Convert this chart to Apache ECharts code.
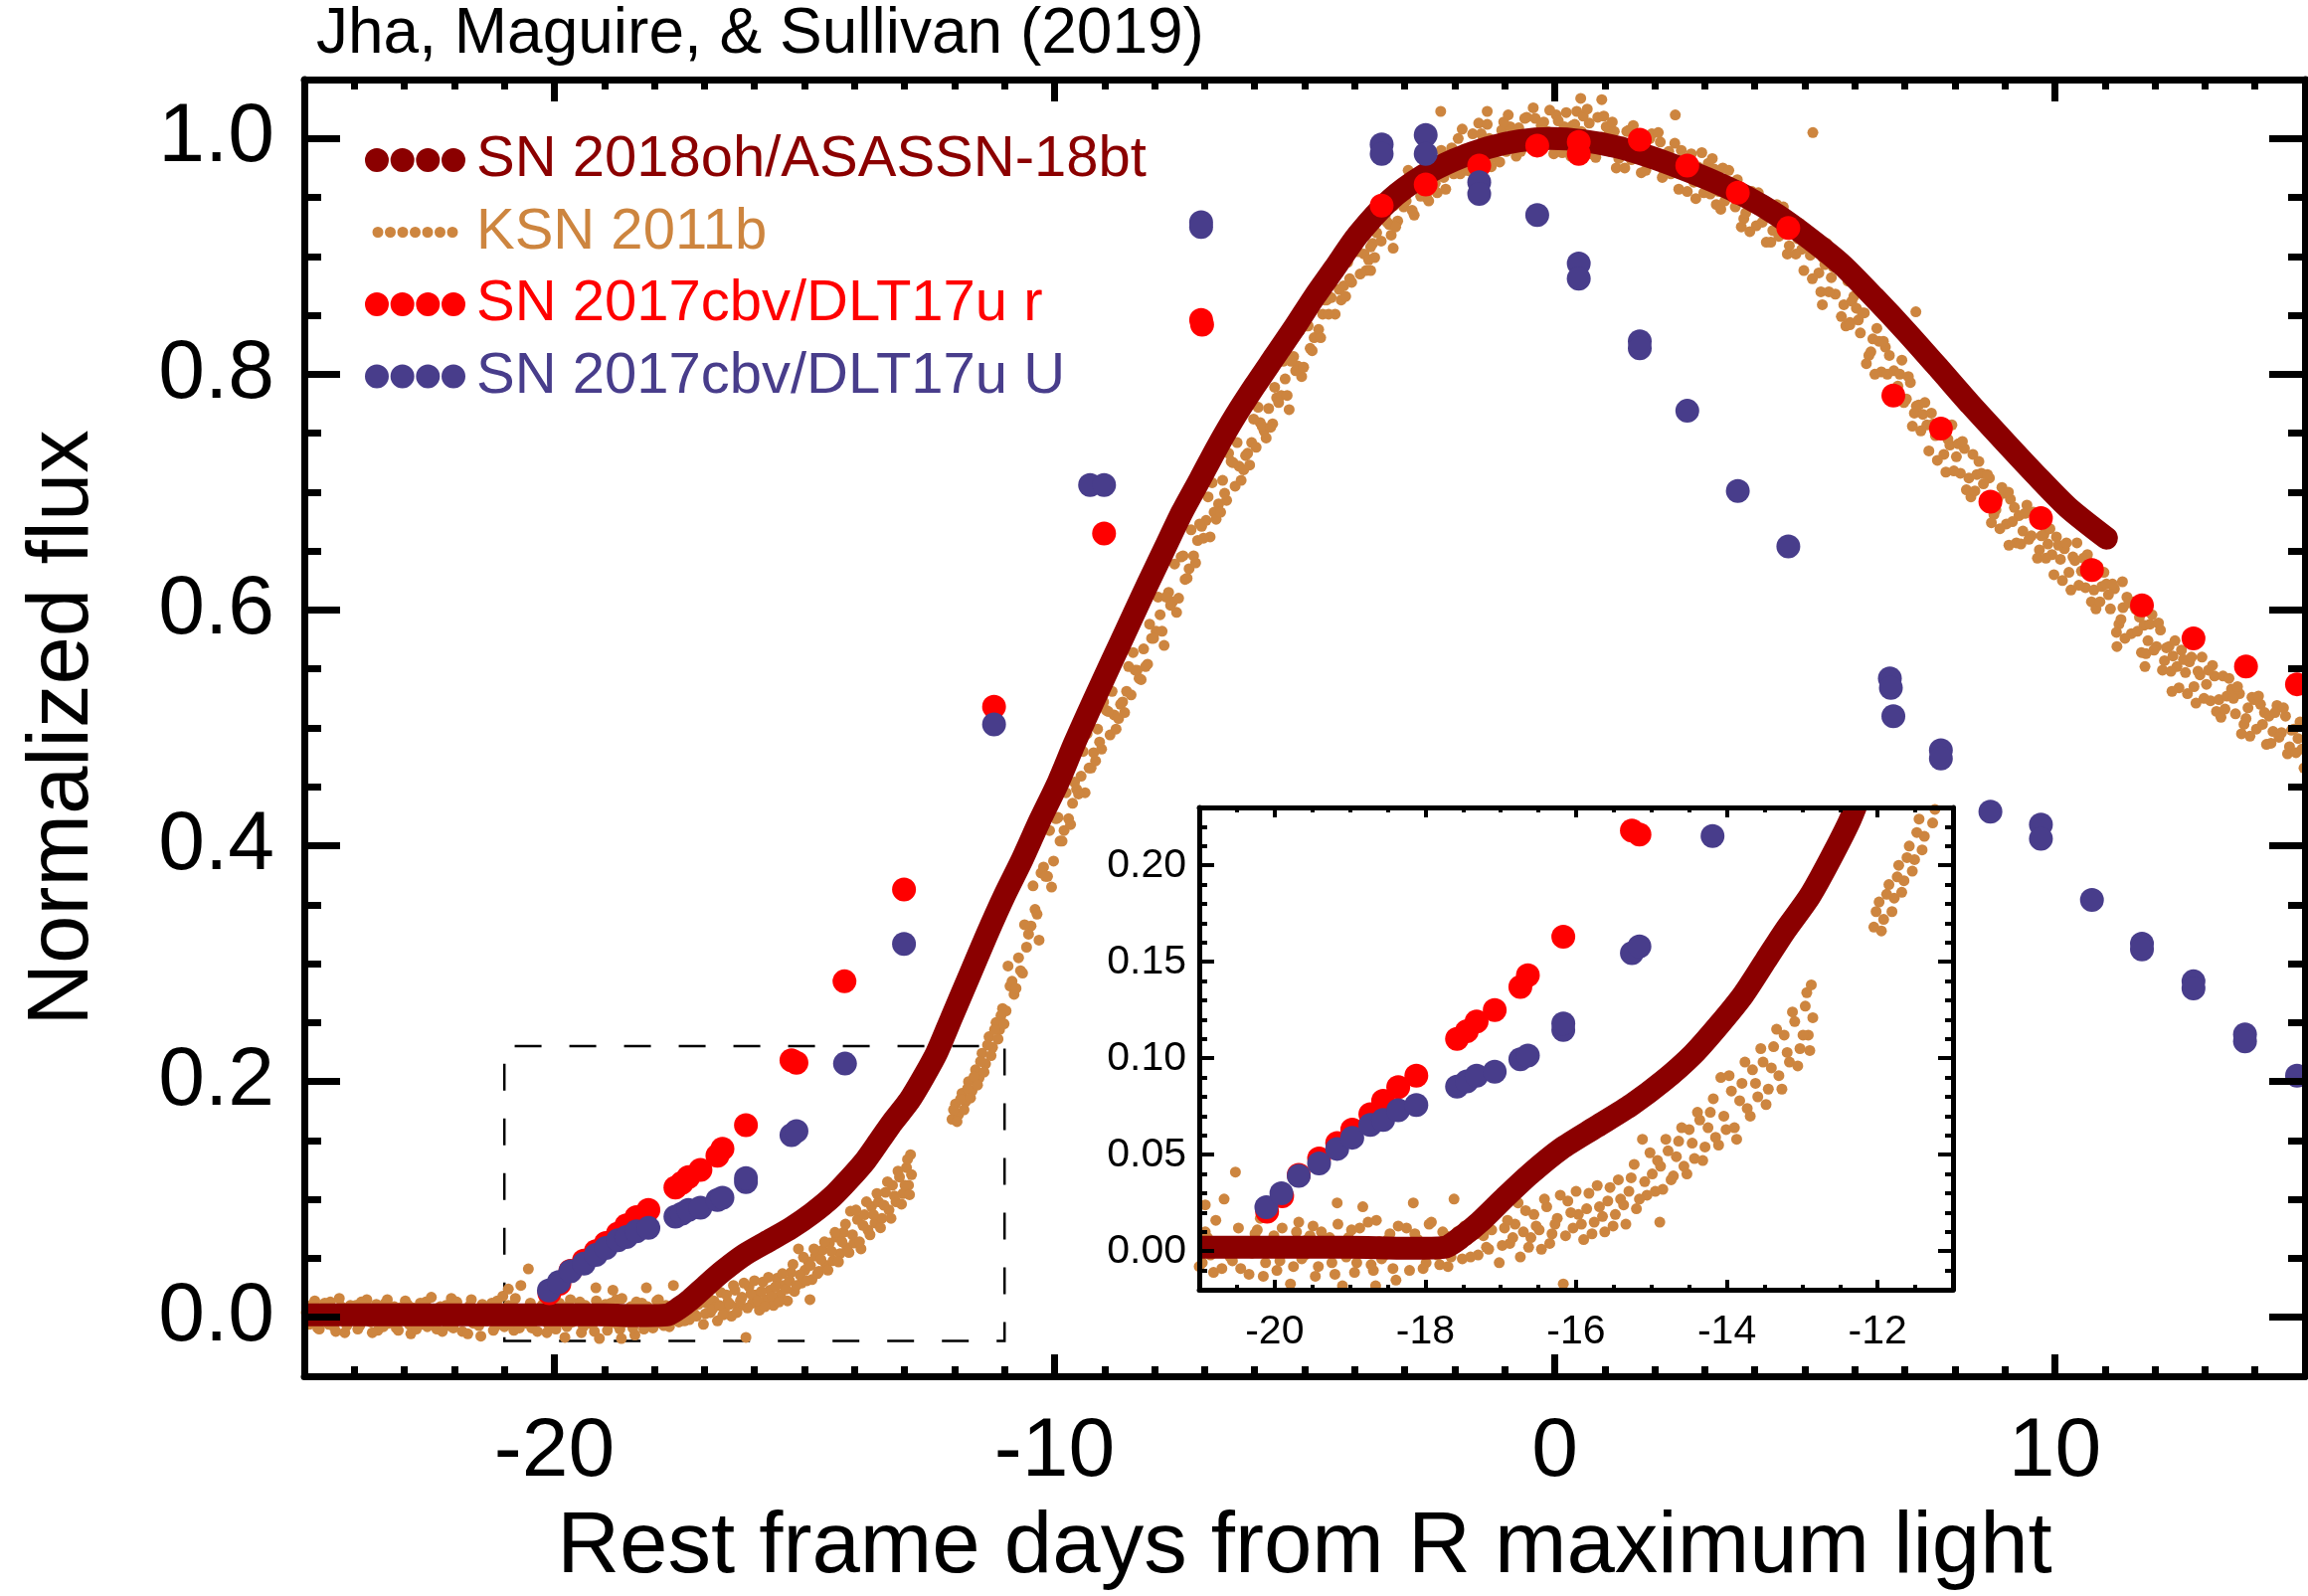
<!DOCTYPE html>
<html>
<head>
<meta charset="utf-8">
<script src="https://cdn.jsdelivr.net/npm/echarts@6/dist/echarts.min.js"></script>
<style>
  html, body { margin: 0; padding: 0; background: #fff; }
  #chart { width: 2321px; height: 1605px; }
</style>
</head>
<body>
<div id="chart"></div>
<script>
// ---- Light-curve data: [rest-frame days from R max, normalized flux] ----

// SN 2018oh / ASASSN-18bt (K2 light curve)
const sn2018oh = [
  [-25,0.002],[-22,0.002],[-19,0.002],[-17.75,0.002],[-17.5,0.008],[-17.28,0.015],[-16.94,0.028],
  [-16.61,0.040],[-16.2,0.053],[-15.73,0.0645],[-15.26,0.076],[-14.85,0.088],[-14.45,0.102],
  [-14.11,0.117],[-13.78,0.133],[-13.48,0.151],[-13.23,0.166],[-12.9,0.184],[-12.63,0.203],
  [-12.36,0.224],[-12.06,0.254],[-11.7,0.29],[-11.35,0.325],[-11.0,0.358],[-10.64,0.389],
  [-10.3,0.421],[-9.93,0.4535],[-9.6,0.487],[-9.22,0.523],[-8.85,0.557],[-8.51,0.588],
  [-8.15,0.621],[-7.80,0.652],[-7.45,0.683],[-7.09,0.711],[-6.75,0.738],[-6.38,0.765],
  [-6.0,0.79],[-5.6,0.815],[-5.2,0.84],[-4.8,0.866],[-4.4,0.89],[-3.94,0.918],[-3.29,0.948],
  [-2.65,0.968],[-2.0,0.982],[-1.35,0.992],[-0.71,0.998],[-0.06,1.0],[0.58,0.998],[1.23,0.993],
  [1.87,0.985],[2.52,0.975],[3.16,0.964],[3.81,0.951],[4.45,0.935],[5.1,0.915],[5.74,0.893],
  [6.39,0.865],[7.03,0.836],[7.68,0.805],[8.32,0.774],[8.97,0.744],[9.61,0.715],[10.26,0.687],
  [11.03,0.661]
];

// KSN 2011b (Kepler extragalactic survey): pre-explosion baseline
const ksnBaseline = [
  [-24.96,0.004],[-24.90,-0.006],[-24.83,0.011],[-24.76,0.001],[-24.70,-0.010],[-24.62,0.007],
  [-24.55,-0.003],[-24.48,0.013],[-24.41,-0.008],[-24.33,0.002],[-24.26,0.009],[-24.19,-0.013],
  [-24.11,0.005],[-24.04,-0.002],[-23.97,0.010],[-23.89,-0.007],[-23.82,0.003],[-23.75,0.015],
  [-23.67,-0.004],[-23.60,0.006],[-23.53,-0.011],[-23.45,0.000],[-23.38,0.012],[-23.31,-0.005],
  [-23.23,0.004],[-23.16,-0.009],[-23.09,0.008],[-23.01,-0.001],[-22.94,0.011],[-22.87,-0.014],
  [-22.79,0.003],[-22.72,0.007],[-22.65,-0.006],[-22.57,0.013],[-22.50,-0.002],[-22.43,0.005],
  [-22.35,-0.010],[-22.28,0.009],[-22.21,0.001],[-22.13,-0.007],[-22.06,0.016],[-21.99,-0.004],
  [-21.91,0.006],[-21.84,-0.012],[-21.77,0.002],[-21.69,0.010],[-21.62,-0.005],[-21.55,0.004],
  [-21.47,-0.016],[-21.40,0.008],[-21.33,-0.002],[-21.25,0.012],[-21.18,-0.008],[-21.11,0.003],
  [-21.03,0.018],[-20.96,-0.006],[-20.92,0.024],[-20.89,0.007],[-20.81,-0.011],[-20.74,0.001],
  [-20.67,0.027],[-20.59,-0.003],[-20.52,0.041],[-20.45,-0.009],[-20.37,0.005],[-20.30,-0.001],
  [-20.23,0.011],[-20.15,-0.013],[-20.08,0.004],[-20.01,0.008],[-19.93,-0.005],[-19.86,0.002],
  [-19.79,-0.017],[-19.71,0.010],[-19.64,-0.004],[-19.57,0.006],[-19.49,0.013],[-19.42,-0.008],
  [-19.35,0.001],[-19.27,0.007],[-19.20,-0.012],[-19.17,0.025],[-19.13,0.004],[-19.10,-0.018],
  [-19.05,-0.003],[-18.98,0.011],[-18.91,-0.006],[-18.83,0.023],[-18.76,0.015],[-18.69,-0.010],
  [-18.66,-0.018],[-18.61,0.005],[-18.54,-0.002],[-18.47,0.009],[-18.39,-0.015],[-18.32,0.002],
  [-18.25,0.012],[-18.16,0.025],[-18.10,0.006],[-18.03,-0.009],[-17.95,0.014],[-17.88,0.001],
  [-17.81,-0.007],[-17.73,0.008],[-17.66,-0.003],[-17.62,0.027],
  [-24.93,0.009],[-24.86,-0.004],[-24.79,0.014],[-24.73,-0.009],[-24.66,0.003],[-24.59,0.012],
  [-24.51,-0.006],[-24.44,0.007],[-24.37,-0.012],[-24.30,0.016],[-24.22,0.001],[-24.15,-0.007],
  [-24.08,0.010],[-24.00,0.004],[-23.93,-0.010],[-23.86,0.013],[-23.78,-0.002],[-23.71,0.008],
  [-23.64,-0.013],[-23.56,0.011],[-23.49,0.005],[-23.42,-0.008],[-23.34,0.015],[-23.27,-0.003],
  [-23.20,0.009],[-23.12,-0.011],[-23.05,0.002],[-22.98,0.014],[-22.90,-0.006],[-22.83,0.008],
  [-22.76,-0.010],[-22.68,0.012],[-22.61,0.000],[-22.54,-0.008],[-22.46,0.017],[-22.39,-0.004],
  [-22.32,0.006],[-22.24,-0.012],[-22.17,0.010],[-22.10,0.003],[-22.02,-0.009],[-21.95,0.013],
  [-21.88,-0.001],[-21.80,0.007],[-21.73,-0.014],[-21.66,0.015],[-21.58,0.002],[-21.51,-0.007],
  [-21.44,0.011],[-21.36,-0.003],[-21.29,0.006],[-21.22,-0.011],[-21.14,0.014],[-21.07,0.000],
  [-21.00,-0.008],[-20.92,0.010],[-20.85,-0.002],[-20.78,0.016],[-20.70,-0.009],[-20.63,0.005],
  [-20.56,-0.005],[-20.48,0.012],[-20.41,0.002],[-20.34,-0.012],[-20.26,0.009],[-20.19,0.017],
  [-20.12,-0.006],[-20.04,0.003],[-19.97,-0.010],[-19.90,0.012],[-19.82,0.005],[-19.75,-0.008],
  [-19.68,0.015],[-19.60,-0.002],[-19.53,0.008],[-19.46,-0.013],[-19.38,0.010],[-19.31,0.003],
  [-19.24,-0.006],[-19.16,0.014],[-19.09,-0.001],[-19.02,0.007],[-18.94,-0.011],[-18.87,0.012],
  [-18.80,0.002],[-18.72,-0.007],[-18.65,0.016],[-18.58,-0.004],[-18.50,0.006],[-18.43,-0.009],
  [-18.36,0.013],[-18.28,0.000],[-18.21,-0.010],[-18.14,0.009],[-18.06,0.003],[-17.99,-0.006],
  [-17.92,0.015],[-17.84,-0.002],[-17.77,0.010],[-17.70,-0.008],[-17.64,0.004]
];

// KSN 2011b: early rise
const ksnRise = [
  [-17.58,0.010],[-17.51,-0.004],[-17.44,0.006],[-17.37,0.016],[-17.30,-0.002],[-17.23,0.008],
  [-17.16,0.001],[-17.09,0.019],[-17.02,-0.006],[-16.95,0.012],[-16.88,0.004],[-16.81,0.014],
  [-16.74,-0.003],[-16.67,0.021],[-16.60,0.007],[-16.53,0.013],[-16.46,0.001],[-16.39,0.023],
  [-16.32,0.009],[-16.25,0.017],[-16.17,-0.017],[-16.11,0.026],[-16.04,0.012],[-15.97,0.019],
  [-15.90,0.006],[-15.83,0.030],[-15.76,0.015],[-15.69,0.023],[-15.62,0.010],[-15.55,0.033],
  [-15.48,0.019],[-15.41,0.027],[-15.34,0.014],[-15.27,0.038],[-15.20,0.022],[-15.12,0.058],
  [-15.06,0.029],[-14.99,0.040],[-14.92,0.047],[-14.89,0.015],[-14.85,0.032],[-14.78,0.052],
  [-14.71,0.039],[-14.64,0.057],[-14.57,0.044],[-14.50,0.063],[-14.43,0.048],[-14.36,0.068],
  [-14.29,0.054],[-14.22,0.072],[-14.15,0.059],[-14.08,0.090],[-14.01,0.063],[-13.94,0.083],
  [-13.87,0.058],[-13.80,0.087],[-13.73,0.074],[-13.66,0.094],[-13.59,0.080],[-13.52,0.098],
  [-13.45,0.084],[-13.38,0.106],[-13.31,0.091],[-13.24,0.112],[-13.17,0.098],[-13.10,0.119],
  [-13.03,0.105],[-12.96,0.127],[-12.92,0.112],[-12.88,0.138],[-12.86,0.121],
  [-17.55,0.003],[-17.48,0.013],[-17.40,-0.003],[-17.33,0.009],[-17.26,0.018],[-17.19,0.002],
  [-17.12,0.011],[-17.05,0.024],[-16.98,0.003],[-16.91,0.016],[-16.84,0.007],[-16.77,0.025],
  [-16.70,0.010],[-16.63,0.002],[-16.56,0.019],[-16.49,0.011],[-16.42,0.027],[-16.35,0.004],
  [-16.28,0.014],[-16.21,0.029],[-16.14,0.008],[-16.07,0.020],[-16.00,0.031],[-15.93,0.014],
  [-15.86,0.022],[-15.79,0.009],[-15.72,0.034],[-15.65,0.018],[-15.58,0.026],[-15.51,0.013],
  [-15.44,0.037],[-15.37,0.024],[-15.30,0.031],[-15.23,0.045],[-15.16,0.027],[-15.09,0.036],
  [-15.02,0.051],[-14.95,0.031],[-14.88,0.044],[-14.81,0.058],[-14.74,0.037],[-14.67,0.049],
  [-14.60,0.064],[-14.53,0.040],[-14.46,0.056],[-14.39,0.072],[-14.32,0.047],[-14.25,0.064],
  [-14.18,0.079],[-14.11,0.055],[-14.04,0.070],[-13.97,0.091],[-13.90,0.064],[-13.83,0.078],
  [-13.76,0.098],[-13.69,0.070],[-13.62,0.087],[-13.55,0.105],[-13.48,0.076],[-13.41,0.095],
  [-13.34,0.115],[-13.27,0.084],[-13.20,0.103],[-13.13,0.124],[-13.06,0.096],[-12.99,0.112],
  [-12.94,0.134],[-12.90,0.104]
];

// KSN 2011b: late rise, peak and decline (after the data gap)
const ksnLate = [
  [-12.05,0.168],[-11.98,0.181],[-11.92,0.172],[-11.85,0.190],[-11.78,0.183],[-11.72,0.200],
  [-11.65,0.192],[-11.58,0.210],[-11.51,0.203],[-11.45,0.224],[-11.38,0.215],[-11.31,0.238],
  [-11.24,0.229],[-11.17,0.250],[-11.10,0.244],[-11.04,0.262],
  [-10.97,0.260],[-10.89,0.281],[-10.81,0.274],[-10.72,0.305],[-10.64,0.292],[-10.56,0.314],
  [-10.47,0.332],[-10.39,0.346],[-10.31,0.320],[-10.22,0.382],[-10.14,0.374],[-10.06,0.365],
  [-9.97,0.423],[-9.89,0.404],[-9.81,0.413],[-9.72,0.423],[-9.64,0.436],[-9.56,0.448],
  [-9.47,0.459],[-9.39,0.445],[-9.31,0.466],[-9.22,0.479],[-9.14,0.499],[-9.06,0.482],
  [-8.97,0.515],[-8.89,0.494],[-8.81,0.511],[-8.72,0.508],[-8.64,0.522],[-8.56,0.531],
  [-8.47,0.528],[-8.39,0.549],[-8.31,0.542],[-8.22,0.567],[-8.14,0.554],[-8.06,0.576],
  [-7.97,0.582],[-7.89,0.596],[-7.81,0.570],[-7.72,0.615],[-7.64,0.607],[-7.56,0.598],
  [-7.47,0.645],[-7.39,0.626],[-7.31,0.635],[-7.22,0.646],[-7.14,0.659],[-7.06,0.671],
  [-6.97,0.676],[-6.89,0.662],[-6.81,0.683],[-6.72,0.690],[-6.64,0.710],[-6.56,0.693],
  [-6.47,0.726],[-6.39,0.705],[-6.31,0.722],[-6.22,0.719],[-6.14,0.733],[-6.06,0.742],
  [-5.97,0.738],[-5.89,0.759],[-5.81,0.752],[-5.72,0.771],[-5.64,0.758],[-5.56,0.780],
  [-5.47,0.782],[-5.39,0.796],[-5.31,0.770],[-5.22,0.815],[-5.14,0.807],[-5.06,0.798],
  [-4.97,0.841],[-4.89,0.822],[-4.81,0.831],[-4.72,0.838],[-4.64,0.851],[-4.56,0.863],
  [-4.47,0.865],[-4.39,0.851],[-4.31,0.872],[-4.22,0.875],[-4.14,0.895],[-4.06,0.878],
  [-3.97,0.906],[-3.89,0.885],[-3.81,0.902],[-3.72,0.897],[-3.64,0.911],[-3.56,0.920],
  [-3.47,0.913],[-3.39,0.934],[-3.31,0.927],[-3.22,0.943],[-3.14,0.930],[-3.06,0.952],
  [-2.97,0.947],[-2.89,0.961],[-2.81,0.935],[-2.72,0.967],[-2.64,0.959],[-2.56,0.950],
  [-2.47,0.981],[-2.39,0.962],[-2.31,0.971],[-2.22,0.967],[-2.14,0.980],[-2.06,0.992],
  [-1.97,0.984],[-1.89,0.970],[-1.81,0.991],[-1.72,0.984],[-1.64,1.004],[-1.56,0.987],
  [-1.47,1.004],[-1.39,0.983],[-1.31,1.000],[-1.22,0.984],[-1.14,0.998],[-1.06,1.007],
  [-0.97,0.989],[-0.89,1.010],[-0.81,1.003],[-0.72,1.009],[-0.64,0.996],[-0.56,1.018],
  [-0.47,1.003],[-0.39,1.017],[-0.31,0.991],[-0.22,1.014],[-0.14,1.006],[-0.06,0.997],
  [0.03,1.020],[0.11,1.001],[0.19,1.010],[0.28,0.998],[0.36,1.011],[0.44,1.023],
  [0.53,1.006],[0.61,0.992],[0.69,1.013],[0.78,0.998],[0.86,1.018],[0.94,1.001],
  [1.03,1.010],[1.11,0.989],[1.19,1.006],[1.28,0.983],[1.36,0.997],[1.44,1.006],
  [1.53,0.982],[1.61,1.003],[1.69,0.996],[1.78,0.995],[1.86,0.982],[1.94,1.004],
  [2.03,0.983],[2.11,0.997],[2.19,0.971],[2.28,0.989],[2.36,0.981],[2.44,0.972],
  [2.53,0.990],[2.61,0.971],[2.69,0.980],[2.78,0.963],[2.86,0.976],[2.94,0.988],
  [3.03,0.967],[3.11,0.953],[3.19,0.974],[3.28,0.955],[3.36,0.975],[3.44,0.958],
  [3.53,0.963],[3.61,0.942],[3.69,0.959],[3.78,0.932],[3.86,0.946],[3.94,0.955],
  [4.03,0.926],[4.11,0.947],[4.19,0.940],[4.28,0.935],[4.36,0.922],[4.44,0.944],
  [4.53,0.921],[4.61,0.935],[4.69,0.909],[4.78,0.923],[4.86,0.915],[4.94,0.906],
  [5.03,0.920],[5.11,0.901],[5.19,0.910],[5.28,0.886],[5.36,0.899],[5.44,0.911],
  [5.53,0.882],[5.61,0.868],[5.69,0.889],[5.78,0.859],[5.86,0.879],[5.94,0.862],
  [6.03,0.856],[6.11,0.835],[6.19,0.852],[6.28,0.816],[6.36,0.830],[6.44,0.839],
  [6.53,0.802],[6.61,0.823],[6.69,0.816],[6.78,0.803],[6.86,0.790],[6.94,0.812],
  [7.03,0.779],[7.11,0.793],[7.19,0.767],[7.28,0.774],[7.36,0.766],[7.44,0.757],
  [7.53,0.767],[7.61,0.748],[7.69,0.757],[7.78,0.732],[7.86,0.745],[7.94,0.757],
  [8.03,0.730],[8.11,0.716],[8.19,0.737],[8.28,0.712],[8.36,0.732],[8.44,0.715],
  [8.53,0.716],[8.61,0.695],[8.69,0.712],[8.78,0.681],[8.86,0.695],[8.94,0.704],
  [9.03,0.673],[9.11,0.694],[9.19,0.687],[9.28,0.680],[9.36,0.667],[9.44,0.689],
  [9.53,0.663],[9.61,0.677],[9.69,0.651],[9.78,0.664],[9.86,0.656],[9.94,0.647],
  [10.03,0.662],[10.11,0.643],[10.19,0.652],[10.28,0.632],[10.36,0.645],[10.44,0.657],
  [10.53,0.633],[10.61,0.619],[10.69,0.640],[10.78,0.617],[10.86,0.637],[10.94,0.620],
  [11.03,0.622],[11.11,0.601],[11.19,0.618],[11.28,0.588],[11.36,0.602],[11.44,0.611],
  [11.53,0.580],[11.61,0.601],[11.69,0.594],[11.78,0.587],[11.86,0.574],[11.94,0.596],
  [12.03,0.569],[12.11,0.583],[12.19,0.557],[12.28,0.569],[12.36,0.561],[12.44,0.552],
  [12.53,0.566],[12.61,0.547],[12.69,0.556],[12.78,0.535],[12.86,0.548],[12.94,0.560],
  [13.03,0.537],[13.11,0.523],[13.19,0.544],[13.28,0.524],[13.36,0.544],[13.44,0.527],
  [13.53,0.533],[13.61,0.512],[13.69,0.529],[13.78,0.503],[13.86,0.517],[13.94,0.526],
  [14.03,0.499],[14.11,0.520],[14.19,0.513],[14.28,0.510],[14.36,0.497],[14.44,0.519],
  [14.53,0.496],[14.61,0.510],[14.69,0.484],[14.78,0.499],[14.86,0.491],[14.94,0.482]
];

// KSN 2011b: interleaved cadences over the same stretch
const ksnLateB = [
  [-12.02,0.176],[-11.95,0.166],[-11.88,0.185],[-11.81,0.176],[-11.74,0.194],[-11.68,0.186],
  [-11.61,0.204],[-11.54,0.197],[-11.48,0.217],[-11.41,0.208],[-11.34,0.231],[-11.27,0.222],
  [-11.20,0.244],[-11.13,0.236],[-11.07,0.256],[-11.01,0.249],
  [-10.93,0.298],[-10.85,0.285],[-10.77,0.279],[-10.68,0.294],[-10.60,0.333],[-10.52,0.325],
  [-10.43,0.366],[-10.35,0.342],[-10.27,0.377],[-10.18,0.374],[-10.10,0.413],[-10.02,0.387],
  [-9.93,0.424],[-9.85,0.404],[-9.77,0.445],[-9.68,0.418],[-9.60,0.454],[-9.52,0.444],
  [-9.43,0.480],[-9.35,0.495],[-9.27,0.466],[-9.18,0.472],[-9.10,0.488],[-9.02,0.522],
  [-8.93,0.514],[-8.85,0.531],[-8.77,0.499],[-8.68,0.520],[-8.60,0.513],[-8.52,0.552],
  [-8.43,0.564],[-8.35,0.549],[-8.27,0.541],[-8.18,0.552],[-8.10,0.588],[-8.02,0.576],
  [-7.93,0.611],[-7.85,0.582],[-7.77,0.611],[-7.68,0.604],[-7.60,0.639],[-7.52,0.610],
  [-7.43,0.646],[-7.35,0.627],[-7.27,0.668],[-7.18,0.640],[-7.10,0.673],[-7.02,0.661],
  [-6.93,0.696],[-6.85,0.708],[-6.77,0.677],[-6.68,0.683],[-6.60,0.699],[-6.52,0.733],
  [-6.43,0.725],[-6.35,0.742],[-6.27,0.710],[-6.18,0.731],[-6.10,0.723],[-6.02,0.762],
  [-5.93,0.772],[-5.85,0.756],[-5.77,0.746],[-5.68,0.755],[-5.60,0.789],[-5.52,0.776],
  [-5.43,0.811],[-5.35,0.782],[-5.27,0.811],[-5.18,0.803],[-5.10,0.837],[-5.02,0.806],
  [-4.93,0.841],[-4.85,0.820],[-4.77,0.860],[-4.68,0.831],[-4.60,0.863],[-4.52,0.851],
  [-4.43,0.883],[-4.35,0.895],[-4.27,0.863],[-4.18,0.866],[-4.10,0.881],[-4.02,0.914],
  [-3.93,0.904],[-3.85,0.921],[-3.77,0.888],[-3.68,0.908],[-3.60,0.899],[-3.52,0.937],
  [-3.43,0.947],[-3.35,0.929],[-3.27,0.918],[-3.18,0.925],[-3.10,0.957],[-3.02,0.942],
  [-2.93,0.973],[-2.85,0.939],[-2.77,0.964],[-2.68,0.951],[-2.60,0.982],[-2.52,0.947],
  [-2.43,0.978],[-2.35,0.954],[-2.27,0.990],[-2.18,0.957],[-2.10,0.986],[-2.02,0.970],
  [-1.93,1.000],[-1.85,1.008],[-1.77,0.973],[-1.68,0.972],[-1.60,0.983],[-1.52,1.013],
  [-1.43,0.999],[-1.35,1.012],[-1.27,0.976],[-1.18,0.992],[-1.10,0.980],[-1.02,1.014],
  [-0.93,1.020],[-0.85,0.999],[-0.77,0.985],[-0.68,0.989],[-0.60,1.017],[-0.52,0.999],
  [-0.43,1.026],[-0.35,0.989],[-0.27,1.011],[-0.18,0.996],[-0.10,1.024],[-0.02,0.987],
  [0.07,1.015],[0.15,0.988],[0.23,1.022],[0.32,0.985],[0.40,1.012],[0.48,0.993],
  [0.57,1.019],[0.65,1.025],[0.73,0.987],[0.82,0.984],[0.90,0.992],[0.98,1.019],
  [1.07,1.003],[1.15,1.014],[1.23,0.975],[1.32,0.989],[1.40,0.975],[1.48,1.007],
  [1.57,1.011],[1.65,0.988],[1.73,0.971],[1.82,0.973],[1.90,1.000],[1.98,0.979],
  [2.07,1.005],[2.15,0.967],[2.23,0.987],[2.32,0.970],[2.40,0.996],[2.48,0.957],
  [2.57,0.984],[2.65,0.955],[2.73,0.987],[2.82,0.949],[2.90,0.974],[2.98,0.954],
  [3.07,0.979],[3.15,0.983],[3.23,0.944],[3.32,0.940],[3.40,0.947],[3.48,0.973],
  [3.57,0.955],[3.65,0.965],[3.73,0.925],[3.82,0.937],[3.90,0.921],[3.98,0.952],
  [4.07,0.954],[4.15,0.929],[4.23,0.912],[4.32,0.912],[4.40,0.938],[4.48,0.917],
  [4.57,0.942],[4.65,0.902],[4.73,0.922],[4.82,0.902],[4.90,0.928],[4.98,0.888],
  [5.07,0.912],[5.15,0.881],[5.23,0.911],[5.32,0.870],[5.40,0.893],[5.48,0.870],
  [5.57,0.891],[5.65,0.892],[5.73,0.849],[5.82,0.841],[5.90,0.844],[5.98,0.866],
  [6.07,0.846],[6.15,0.852],[6.23,0.809],[6.32,0.819],[6.40,0.800],[6.48,0.828],
  [6.57,0.828],[6.65,0.800],[6.73,0.780],[6.82,0.778],[6.90,0.800],[6.98,0.776],
  [7.07,0.798],[7.15,0.756],[7.23,0.773],[7.32,0.752],[7.40,0.776],[7.48,0.735],
  [7.57,0.758],[7.65,0.727],[7.73,0.757],[7.82,0.717],[7.90,0.740],[7.98,0.718],
  [8.07,0.741],[8.15,0.743],[8.23,0.702],[8.32,0.696],[8.40,0.701],[8.48,0.726],
  [8.57,0.707],[8.65,0.715],[8.73,0.674],[8.82,0.685],[8.90,0.669],[8.98,0.699],
  [9.07,0.700],[9.15,0.675],[9.23,0.657],[9.32,0.656],[9.40,0.682],[9.48,0.660],
  [9.57,0.683],[9.65,0.644],[9.73,0.663],[9.82,0.644],[9.90,0.669],[9.98,0.630],
  [10.07,0.655],[10.15,0.625],[10.23,0.657],[10.32,0.617],[10.40,0.642],[10.48,0.621],
  [10.57,0.644],[10.65,0.647],[10.73,0.607],[10.82,0.601],[10.90,0.607],[10.98,0.632],
  [11.07,0.613],[11.15,0.622],[11.23,0.581],[11.32,0.592],[11.40,0.576],[11.48,0.606],
  [11.57,0.607],[11.65,0.582],[11.73,0.564],[11.82,0.563],[11.90,0.588],[11.98,0.566],
  [12.07,0.589],[12.15,0.549],[12.23,0.568],[12.32,0.548],[12.40,0.574],[12.48,0.534],
  [12.57,0.558],[12.65,0.529],[12.73,0.560],[12.82,0.521],[12.90,0.545],[12.98,0.525],
  [13.07,0.549],[13.15,0.553],[13.23,0.514],[13.32,0.509],[13.40,0.516],[13.48,0.542],
  [13.57,0.525],[13.65,0.535],[13.73,0.495],[13.82,0.508],[13.90,0.493],[13.98,0.524],
  [14.07,0.527],[14.15,0.503],[14.23,0.486],[14.32,0.487],[14.40,0.513],[14.48,0.492],
  [14.57,0.517],[14.65,0.478],[14.73,0.498],[14.82,0.479],[14.90,0.505],[14.98,0.466]
];

// KSN 2011b: isolated points away from the main band
const ksnStray = [
  [-3.68,0.888],[-3.23,0.907],[-2.28,1.023],[-1.35,1.023],[0.52,1.034],[0.94,1.033],[2.41,1.020],
  [5.16,1.005],[5.35,0.859],[5.90,0.842],[7.22,0.853],[9.08,0.655],[11.24,0.569],[11.35,0.624],
  [11.80,0.552],[12.34,0.531]
];

// SN 2017cbv / DLT17u, r band
const cbvR = [
  [-20.10,0.0205],[-19.90,0.0285],[-19.68,0.0395],[-19.41,0.048],[-19.17,0.056],[-18.97,0.063],
  [-18.73,0.071],[-18.56,0.078],[-18.36,0.085],[-18.12,0.091],[-17.58,0.110],[-17.45,0.114],
  [-17.32,0.119],[-17.08,0.125],[-16.74,0.137],[-16.64,0.143],[-16.17,0.163],[-15.26,0.218],
  [-15.16,0.216],[-14.20,0.285],[-13.01,0.363],[-11.21,0.518],[-9.01,0.665],[-7.07,0.846],
  [-7.05,0.842],[-3.46,0.943],[-2.58,0.961],[-1.51,0.977],[-0.35,0.994],[0.48,0.997],[0.48,0.987],
  [1.70,0.999],[2.65,0.977],[3.66,0.954],[4.67,0.924],[6.77,0.782],[7.72,0.754],[8.71,0.692],
  [9.72,0.678],[10.74,0.634],[11.74,0.604],[12.77,0.576],[13.82,0.552],[14.84,0.537]
];

// SN 2017cbv / DLT17u, U band
const cbvU = [
  [-20.11,0.0228],[-19.91,0.030],[-19.68,0.039],[-19.41,0.0455],[-19.17,0.053],[-18.97,0.0588],
  [-18.73,0.0654],[-18.56,0.068],[-18.36,0.073],[-18.12,0.0758],[-17.58,0.0853],[-17.45,0.088],
  [-17.32,0.091],[-17.08,0.093],[-16.74,0.0995],[-16.64,0.1014],[-16.17,0.1147],[-16.17,0.118],
  [-15.26,0.1545],[-15.16,0.158],[-14.19,0.2152],[-13.01,0.3167],[-11.21,0.503],[-9.29,0.706],
  [-9.01,0.706],[-7.07,0.929],[-7.07,0.925],[-3.46,0.995],[-3.46,0.987],[-2.58,1.003],[-2.58,0.987],
  [-1.51,0.963],[-1.51,0.953],[-0.35,0.935],[0.48,0.894],[0.48,0.881],[1.70,0.828],[1.70,0.822],
  [2.65,0.769],[3.66,0.701],[4.67,0.654],[6.70,0.542],[6.72,0.534],[6.77,0.510],[7.72,0.481],
  [7.72,0.474],[8.71,0.429],[9.72,0.418],[9.72,0.406],[10.74,0.354],[11.74,0.317],[11.74,0.312],
  [12.77,0.285],[12.77,0.279],[13.80,0.240],[13.80,0.234],[14.84,0.205]
];

// Axis tick values
const mainXTicks = [-20, -10, 0, 10];
const mainYTicks = [0, 0.2, 0.4, 0.6, 0.8, 1.0];
const insetXTicks = [-20, -18, -16, -14, -12];
const insetYTicks = [0, 0.05, 0.10, 0.15, 0.20];

// Zoom window shown in the inset (also outlined on the main panel)
const zoomBox = { x: [-21, -11], y: [-0.02, 0.23] };

// ---- Styling ----
const FONT = 'Liberation Sans';
const C_OH = '#8B0000', C_KSN = '#CD853F', C_R = '#FF0000', C_U = '#483D8B';
const N_OH = 'SN 2018oh/ASASSN-18bt', N_KSN = 'KSN 2011b',
      N_R = 'SN 2017cbv/DLT17u r', N_U = 'SN 2017cbv/DLT17u U';

function tickRange(a, b, step) {
  const out = [];
  const n = Math.round((b - a) / step);
  for (let i = 0; i <= n; i++) out.push(+(a + i * step).toFixed(4));
  return out;
}

// one axis layer: either the labelled/framed major layer or a minor-tick layer
function axisLayer(o) {
  return {
    type: 'value', gridIndex: o.grid, position: o.pos, min: o.min, max: o.max, z: o.z,
    axisLine: { show: !!o.line, onZero: false, lineStyle: { color: '#000', width: o.line || 0 } },
    axisTick: { show: true, inside: true, length: o.len, customValues: o.ticks,
                lineStyle: { color: '#000', width: o.tw } },
    axisLabel: o.labels ? Object.assign({ show: true, customValues: o.ticks, color: '#000',
                fontFamily: FONT }, o.labels) : { show: false },
    splitLine: { show: false },
    minorTick: { show: false },
    name: o.name || '', nameLocation: 'middle', nameGap: o.nameGap || 0, nameRotate: o.nameRotate,
    nameMoveOverlap: false,
    nameTextStyle: o.nameStyle || {}
  };
}

const mx = { min: -25, max: 15 }, my = { min: -0.05, max: 1.05 };
const ix = { min: zoomBox.x[0], max: zoomBox.x[1] }, iy = { min: zoomBox.y[0], max: zoomBox.y[1] };

const xAxes = [
  // main panel
  axisLayer({ grid: 0, pos: 'bottom', ...mx, z: 20, line: 7, len: 22, tw: 7, ticks: mainXTicks,
    labels: { fontSize: 84, lineHeight: 84, margin: 35 },
    name: 'Rest frame days from R maximum light', nameGap: 130,
    nameStyle: { fontSize: 87, lineHeight: 87, fontFamily: FONT, color: '#000' } }),
  axisLayer({ grid: 0, pos: 'bottom', ...mx, z: 20, len: 10, tw: 7, ticks: tickRange(-25, 15, 1) }),
  axisLayer({ grid: 0, pos: 'top', ...mx, z: 20, line: 7, len: 22, tw: 7, ticks: mainXTicks }),
  axisLayer({ grid: 0, pos: 'top', ...mx, z: 20, len: 10, tw: 7, ticks: tickRange(-25, 15, 1) }),
  // inset
  axisLayer({ grid: 1, pos: 'bottom', ...ix, z: 40, line: 5, len: 10, tw: 4, ticks: insetXTicks,
    labels: { fontSize: 41, lineHeight: 41, margin: 22 } }),
  axisLayer({ grid: 1, pos: 'bottom', ...ix, z: 40, len: 5, tw: 4, ticks: tickRange(-21, -11, 0.5) }),
  axisLayer({ grid: 1, pos: 'top', ...ix, z: 40, line: 5, len: 10, tw: 4, ticks: insetXTicks }),
  axisLayer({ grid: 1, pos: 'top', ...ix, z: 40, len: 5, tw: 4, ticks: tickRange(-21, -11, 0.5) })
];

const yAxes = [
  // main panel
  axisLayer({ grid: 0, pos: 'left', ...my, z: 20, line: 7, len: 36, tw: 7, ticks: mainYTicks,
    labels: { fontSize: 84, lineHeight: 84, margin: 30, formatter: v => v.toFixed(1) },
    name: 'Normalized flux', nameGap: 198, nameRotate: 90,
    nameStyle: { fontSize: 87, lineHeight: 87, fontFamily: FONT, color: '#000' } }),
  axisLayer({ grid: 0, pos: 'left', ...my, z: 20, len: 17, tw: 7, ticks: tickRange(-0.05, 1.05, 0.05) }),
  axisLayer({ grid: 0, pos: 'right', ...my, z: 20, line: 7, len: 36, tw: 7, ticks: mainYTicks }),
  axisLayer({ grid: 0, pos: 'right', ...my, z: 20, len: 17, tw: 7, ticks: tickRange(-0.05, 1.05, 0.05) }),
  // inset
  axisLayer({ grid: 1, pos: 'left', ...iy, z: 40, line: 5, len: 15, tw: 4, ticks: insetYTicks,
    labels: { fontSize: 41, lineHeight: 41, margin: 13, formatter: v => v.toFixed(2) } }),
  axisLayer({ grid: 1, pos: 'left', ...iy, z: 40, len: 8, tw: 4, ticks: tickRange(-0.02, 0.23, 0.01) }),
  axisLayer({ grid: 1, pos: 'right', ...iy, z: 40, line: 5, len: 15, tw: 4, ticks: insetYTicks }),
  axisLayer({ grid: 1, pos: 'right', ...iy, z: 40, len: 8, tw: 4, ticks: tickRange(-0.02, 0.23, 0.01) })
];

const ksnAll = ksnBaseline.concat(ksnRise, ksnLate, ksnLateB, ksnStray);

// thick SN 2018oh curve, clipped exactly to its own plotting area
function ohSeries(axisIdx, z) {
  return {
    name: N_OH, type: 'custom', xAxisIndex: axisIdx, yAxisIndex: axisIdx, z, silent: true,
    clip: true, data: [0], itemStyle: { color: C_OH },
    renderItem: (params, api) => ({
      type: 'polyline',
      shape: { points: sn2018oh.map(p => api.coord(p)), smooth: 0.25 },
      style: { fill: null, stroke: C_OH, lineWidth: 23, lineCap: 'round', lineJoin: 'round' }
    })
  };
}

// the same four light curves, drawn on a given pair of axes
function panelSeries(axisIdx, zBase) {
  const common = { xAxisIndex: axisIdx, yAxisIndex: axisIdx, silent: true, animation: false };
  return [
    Object.assign({ name: N_KSN, type: 'scatter', data: ksnAll, symbol: 'circle', symbolSize: 11,
      itemStyle: { color: C_KSN, opacity: 1 }, z: zBase }, common),
    ohSeries(axisIdx, zBase + 1),
    Object.assign({ name: N_R, type: 'scatter', data: cbvR, symbol: 'circle', symbolSize: 24,
      itemStyle: { color: C_R, opacity: 1 }, z: zBase + 2 }, common),
    Object.assign({ name: N_U, type: 'scatter', data: cbvU, symbol: 'circle', symbolSize: 24,
      itemStyle: { color: C_U, opacity: 1 }, z: zBase + 3 }, common)
  ];
}

// legend icons: a short row of dots
function dotRow(n, r, step, w, h) {
  let p = '';
  for (let i = 0; i < n; i++) {
    const cx = (w - (2 * r + (n - 1) * step)) / 2 + r + i * step, cy = h / 2;
    p += `M${(cx - r).toFixed(2)},${cy} a${r},${r} 0 1,0 ${2 * r},0 a${r},${r} 0 1,0 ${-2 * r},0 Z `;
  }
  return 'path://' + p + `M0,0 M${w},${h}`;
}
const bigDots = dotRow(4, 12, 25.7, 101, 24);
const smallDots = dotRow(7, 5.5, 12.5, 101, 24);

const option = {
  animation: false,
  backgroundColor: '#fff',
  title: {
    text: 'Jha, Maguire, & Sullivan (2019)', left: 318, top: 3, padding: 0,
    textStyle: { fontFamily: FONT, fontSize: 64, lineHeight: 64, fontWeight: 'normal', color: '#000' }
  },
  legend: {
    orient: 'vertical', left: 367, top: 132, padding: 0, itemGap: 14.5,
    itemWidth: 101, itemHeight: 24, selectedMode: false,
    itemStyle: { borderWidth: 0 },
    textStyle: { fontFamily: FONT, fontSize: 58, lineHeight: 58, padding: [0, 0, 0, 6] },
    data: [
      { name: N_OH, icon: bigDots, itemStyle: { color: C_OH }, textStyle: { color: C_OH } },
      { name: N_KSN, icon: smallDots, itemStyle: { color: C_KSN }, textStyle: { color: C_KSN } },
      { name: N_R, icon: bigDots, itemStyle: { color: C_R }, textStyle: { color: C_R } },
      { name: N_U, icon: bigDots, itemStyle: { color: C_U }, textStyle: { color: C_U } }
    ]
  },
  grid: [
    { left: 306, right: 3, top: 80, bottom: 221, containLabel: false, outerBoundsMode: 'none' },
    { left: 1206, top: 812, width: 758, height: 485, containLabel: false, outerBoundsMode: 'none',
      show: true, backgroundColor: '#fff', borderWidth: 0, z: 30 }
  ],
  xAxis: xAxes,
  yAxis: yAxes,
  series: [
    ...panelSeries(0, 2),
    // dashed outline of the zoomed region on the main panel
    { type: 'scatter', xAxisIndex: 0, yAxisIndex: 0, data: [], z: 8, silent: true,
      markArea: {
        silent: true, label: { show: false },
        itemStyle: { color: 'rgba(0,0,0,0)', borderColor: '#000', borderWidth: 2.5, borderType: [27, 28] },
        data: [[{ coord: [zoomBox.x[0], zoomBox.y[0]] }, { coord: [zoomBox.x[1], zoomBox.y[1]] }]]
      } },
    ...panelSeries(4, 32)
  ]
};

const chart = echarts.init(document.getElementById('chart'), null, { renderer: 'canvas' });
chart.setOption(option);
</script>
</body>
</html>
